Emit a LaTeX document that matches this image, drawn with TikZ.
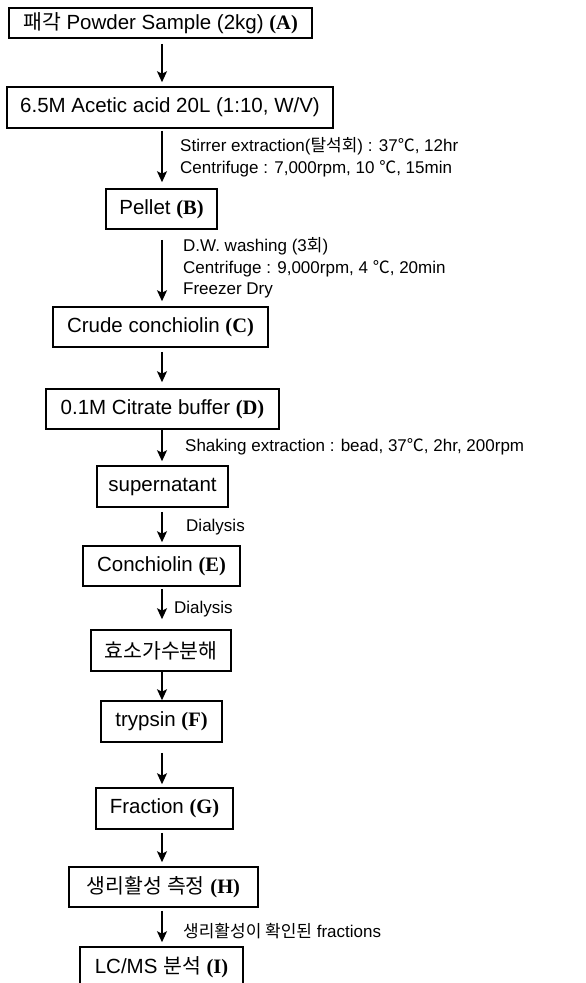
\documentclass[tikz,border=0pt]{standalone}
\usepackage{fontspec}
\setmainfont{Liberation Sans}
\newfontfamily\kr{Noto Sans CJK KR}
\newfontfamily\serifb{Liberation Serif}
\usetikzlibrary{arrows.meta}
\newcommand\steplabel[1]{{\serifb\bfseries(#1)}}
\newcommand\degc{{\kr ℃}}

\begin{document}
\begin{tikzpicture}[x=1pt,y=-1pt,
  box/.style={draw, line width=1.5pt, inner sep=0pt, minimum height=41pt,
    font=\fontsize{20.5}{24}\selectfont},
  flow/.style={line width=1.7pt, -{Stealth[length=11pt,width=10pt,inset=2.5pt]}},
  note/.style={anchor=west, align=left, inner sep=0pt,
    font=\fontsize{17}{21.5}\selectfont}]

\useasboundingbox (0,0) rectangle (586,983);
\clip (0,0) rectangle (586,983);

\fill[white] (0,0) rectangle (586,983);

% process boxes
\node[box, minimum width=303pt, minimum height=30pt] (A) at (160.5,23)
  {{\kr 패각} Powder Sample (2kg) \steplabel{A}};
\node[box, minimum width=326pt] (acid) at (170,107.5)
  {6.5M Acetic acid 20L (1:10, W/V)};
\node[box, minimum width=111pt, minimum height=40pt] (B) at (161.5,209)
  {Pellet \steplabel{B}};
\node[box, minimum width=215pt, minimum height=40pt] (C) at (160.5,327)
  {Crude conchiolin \steplabel{C}};
\node[box, minimum width=233pt, minimum height=40pt] (D) at (162.5,409)
  {0.1M Citrate buffer \steplabel{D}};
\node[box, minimum width=131pt] (sup) at (162.5,486.5)
  {supernatant};
\node[box, minimum width=157pt, minimum height=40pt] (E) at (161.5,566)
  {Conchiolin \steplabel{E}};
\node[box, minimum width=140pt] (enz) at (161,650.5)
  {{\kr 효소가수분해}};
\node[box, minimum width=121pt] (F) at (161.5,721.5)
  {trypsin \steplabel{F}};
\node[box, minimum width=137pt] (G) at (164.5,808.5)
  {Fraction \steplabel{G}};
\node[box, minimum width=189pt, minimum height=40pt] (H) at (163.5,887)
  {{\kr 생리활성 측정} \steplabel{H}};
\node[box, minimum width=163pt, minimum height=40pt] (I) at (161.5,967)
  {LC/MS {\kr 분석} \steplabel{I}};

% main flow line
\coordinate (ax) at (162,0);
\draw[flow, shorten <=5pt, shorten >=4pt] (A.south -| ax) -- (acid.north -| ax);
\draw[flow, shorten <=2pt, shorten >=6pt] (acid.south -| ax) -- (B.north -| ax);
\draw[flow, shorten <=10pt, shorten >=5pt] (B.south -| ax) -- (C.north -| ax);
\draw[flow, shorten <=4pt, shorten >=6pt] (C.south -| ax) -- (D.north -| ax);
\draw[flow, shorten <=0pt, shorten >=4pt] (D.south -| ax) -- (sup.north -| ax);
\draw[flow, shorten <=4pt, shorten >=3pt] (sup.south -| ax) -- (E.north -| ax);
\draw[flow, shorten <=2pt, shorten >=10pt] (E.south -| ax) -- (enz.north -| ax);
\draw[flow, shorten <=0pt, shorten >=0pt] (enz.south -| ax) -- (F.north -| ax);
\draw[flow, shorten <=10pt, shorten >=3pt] (F.south -| ax) -- (G.north -| ax);
\draw[flow, shorten <=3pt, shorten >=4pt] (G.south -| ax) -- (H.north -| ax);
\draw[flow, shorten <=3pt, shorten >=4pt] (H.south -| ax) -- (I.north -| ax);

% step conditions
\node[note] (n1) at (180,157)
  {Stirrer extraction({\kr 탈석회}) : 37\degc, 12hr\\
   Centrifuge : 7,000rpm, 10 \degc, 15min};
\node[note] (n2) at (183,268)
  {D.W. washing (3{\kr 회})\\
   Centrifuge : 9,000rpm, 4 \degc, 20min\\
   Freezer Dry};
\node[note] (n3) at (185,447)
  {Shaking extraction : bead, 37\degc, 2hr, 200rpm};
\node[note] (n4) at (186,527) {Dialysis};
\node[note] (n5) at (174,609) {Dialysis};
\node[note] (n6) at (183,931)
  {{\kr 생리활성이 확인된} fractions};

\end{tikzpicture}
\end{document}
